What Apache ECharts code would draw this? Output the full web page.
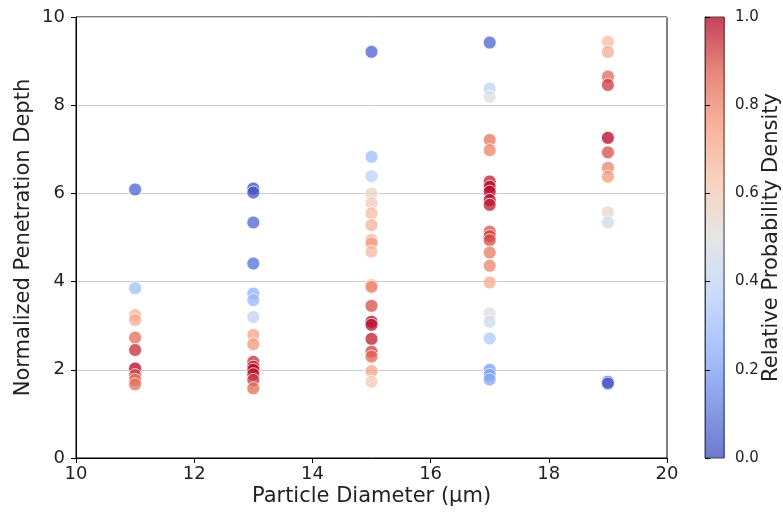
<!DOCTYPE html>
<html><head><meta charset="utf-8">
<script src="https://cdn.jsdelivr.net/npm/echarts@6/dist/echarts.min.js"></script>
<style>html,body{margin:0;padding:0;background:#fff}#c{width:783px;height:512px}</style>
</head><body><div id="c"></div>
<script>
// Particle diameters (x) and per-diameter penetration depths / densities
const diameters = [11, 13, 15, 17, 19];
const depth11 = [6.09, 3.85, 3.24, 3.13, 2.73, 2.45, 2.03, 1.88, 1.77, 1.67];
const dens11  = [0.05, 0.30, 0.68, 0.70, 0.85, 0.95, 1.00, 0.90, 0.86, 0.84];
const depth13 = [6.11, 6.02, 5.34, 4.41, 3.73, 3.58, 3.20, 2.79, 2.58, 2.18, 2.07, 2.00, 1.90, 1.77, 1.58];
const dens13  = [0.00, 0.02, 0.06, 0.08, 0.25, 0.27, 0.40, 0.72, 0.76, 0.95, 0.96, 1.00, 0.97, 0.94, 0.85];
const depth15 = [9.21, 6.83, 6.39, 6.00, 5.78, 5.55, 5.28, 4.94, 4.87, 4.68, 3.92, 3.88, 3.45, 3.09, 3.02, 2.70, 2.41, 2.30, 1.97, 1.73];
const dens15  = [0.05, 0.30, 0.38, 0.55, 0.60, 0.65, 0.68, 0.70, 0.74, 0.66, 0.72, 0.80, 0.90, 1.00, 0.98, 0.97, 0.92, 0.86, 0.72, 0.60];
const depth17 = [9.42, 8.38, 8.19, 7.21, 6.98, 6.27, 6.15, 6.04, 5.85, 5.74, 5.13, 5.03, 4.94, 4.66, 4.36, 3.98, 3.28, 3.09, 2.71, 2.00, 1.88, 1.78];
const dens17  = [0.05, 0.40, 0.50, 0.83, 0.80, 0.97, 1.00, 1.00, 1.00, 0.97, 0.90, 0.93, 0.90, 0.82, 0.80, 0.70, 0.50, 0.45, 0.35, 0.20, 0.20, 0.22];
const depth19 = [9.44, 9.21, 8.65, 8.46, 7.26, 6.93, 6.58, 6.38, 5.57, 5.34, 1.73, 1.69];
const dens19  = [0.65, 0.70, 0.86, 0.93, 1.00, 0.90, 0.80, 0.75, 0.55, 0.45, 0.05, 0.03];
const xTicks = [10, 12, 14, 16, 18, 20];
const cbTicks = [0.0, 0.2, 0.4, 0.6, 0.8, 1.0];

const groups = [[depth11, dens11], [depth13, dens13], [depth15, dens15], [depth17, dens17], [depth19, dens19]];
const points = [];
groups.forEach((g, i) => g[0].forEach((d, j) => points.push([diameters[i], d, g[1][j]])));

const coolwarm = ['#3b4cc0','#627fe2','#8db0fe','#b8d0f9','#dddddd','#f5c4ac','#f49a7b','#de604d','#b40426'];
const font = 'DejaVu Sans';
const chart = echarts.init(document.getElementById('c'), null, {renderer: 'canvas'});
chart.setOption({
  backgroundColor: '#fff',
  animation: false,
  textStyle: {fontFamily: font},
  grid: [
    {left: 76, right: 116, top: 17, bottom: 54, show: true, borderColor: '#000', borderWidth: 1},
    {left: 705, width: 20, top: 17, height: 441, show: true, borderColor: '#444', borderWidth: 1}
  ],
  xAxis: [
    {type: 'value', min: xTicks[0], max: xTicks[xTicks.length-1], interval: 2, gridIndex: 0,
     name: 'Particle Diameter (μm)', nameLocation: 'middle', nameGap: 28, nameMoveOverlap: false,
     nameTextStyle: {fontSize: 21, color: '#222', fontFamily: font},
     axisLine: {lineStyle: {color: '#000'}}, axisTick: {show: true, length: 5, lineStyle: {color: '#000'}},
     axisLabel: {fontSize: 18, color: '#222', margin: 7, fontFamily: font},
     splitLine: {show: false}},
    {type: 'value', gridIndex: 1, show: false, min: 0, max: 1}
  ],
  yAxis: [
    {type: 'value', min: 0, max: 10, interval: 2, gridIndex: 0,
     name: 'Normalized Penetration Depth', nameLocation: 'middle', nameGap: 42, nameMoveOverlap: false,
     nameTextStyle: {fontSize: 21, color: '#222', fontFamily: font},
     axisLine: {lineStyle: {color: '#000'}}, axisTick: {show: true, length: 5, lineStyle: {color: '#000'}},
     axisLabel: {fontSize: 18, color: '#222', margin: 11, fontFamily: font},
     splitLine: {show: true, lineStyle: {color: '#cccccc', width: 1}}},
    {type: 'value', min: cbTicks[0], max: cbTicks[cbTicks.length-1], interval: 0.2, gridIndex: 1, position: 'right',
     name: 'Relative Probability Density', nameLocation: 'middle', nameGap: 37, nameRotate: 90, nameMoveOverlap: false,
     nameTextStyle: {fontSize: 21, color: '#222', fontFamily: font},
     axisLine: {show: true, lineStyle: {color: '#444'}}, axisTick: {show: true, length: 5, lineStyle: {color: '#000'}},
     axisLabel: {show: true, fontSize: 15, color: '#222', margin: 11, fontFamily: font,
       formatter: function (v) { return Number(v).toFixed(1); }},
     splitLine: {show: false}}
  ],
  visualMap: {type: 'continuous', show: false, min: 0, max: 1, dimension: 2, seriesIndex: 0,
    inRange: {color: coolwarm}},
  graphic: [{
    type: 'rect', z: -1, shape: {x: 705, y: 17, width: 20, height: 441},
    style: {opacity: 0.75, fill: new echarts.graphic.LinearGradient(0, 1, 0, 0,
      coolwarm.map((c, i) => ({offset: i / (coolwarm.length - 1), color: c})))}
  }],
  series: [{
    type: 'scatter', xAxisIndex: 0, yAxisIndex: 0, data: points, symbolSize: 13,
    itemStyle: {opacity: 0.75, borderColor: '#fff', borderWidth: 1}
  }]
});
</script></body></html>
